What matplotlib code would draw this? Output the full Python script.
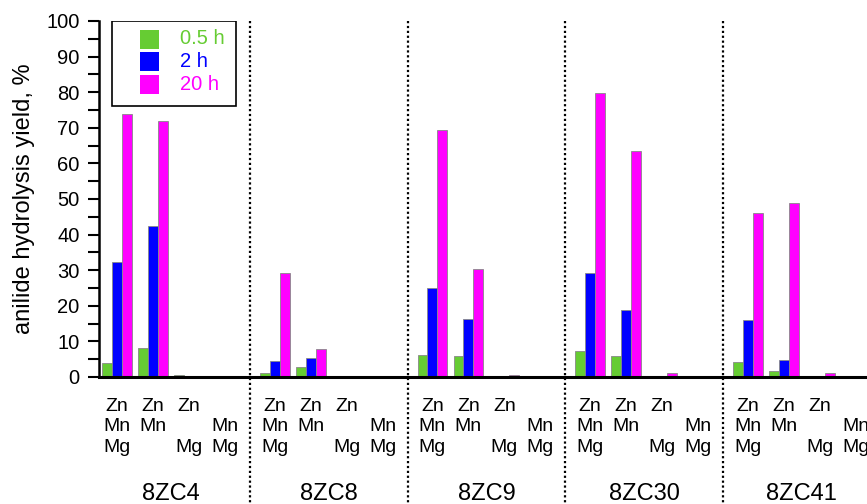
import numpy as np
import matplotlib
matplotlib.use("Agg")
import matplotlib.pyplot as plt
from matplotlib.patches import Rectangle, Shadow
from matplotlib.ticker import MultipleLocator
import matplotlib.transforms as mtransforms

plt.rcParams['font.family'] = ['Liberation Sans', 'DejaVu Sans']

# data
groups = ['8ZC4', '8ZC8', '8ZC9', '8ZC30', '8ZC41']
metals = ['Zn\nMn\nMg', 'Zn\nMn', 'Zn\n\nMg', '\nMn\nMg']
series = ['0.5 h', '2 h', '20 h']
colors = ['#66cc33', '#0000ff', '#ff00ff']

y_05h = [[3.8, 8.1, 0.5, 0],
         [1.0, 2.7, 0.3, 0],
         [6.1, 5.8, 0, 0],
         [7.2, 5.8, 0, 0],
         [4.1, 1.8, 0, 0]]
y_2h = [[32.3, 42.5, 0, 0],
        [4.4, 5.2, 0, 0],
        [25.0, 16.4, 0, 0],
        [29.3, 18.8, 0, 0],
        [16.0, 4.8, 0, 0]]
y_20h = [[74.0, 71.9, 0, 0],
         [29.3, 8.0, 0, 0],
         [69.3, 30.3, 0.7, 0],
         [79.7, 63.5, 1.2, 0],
         [46.0, 48.8, 1.2, 0]]

# layout
period = 4.38   # distance between groups, in subgroup units
bw = 0.275

fig = plt.figure(figsize=(8.67, 5.04), dpi=100)
ax = fig.add_axes([99/867, 127/504, 768/867, 356/504])

pos = np.array([[g*period + j for j in range(4)] for g in range(len(groups))])
data = [y_05h, y_2h, y_20h]
for k in range(3):
    ax.bar(pos.ravel() + (k-1)*bw, np.array(data[k]).ravel(), width=bw,
           color=colors[k], edgecolor='#888888', linewidth=0.6, zorder=2)

ax.set_xlim(-0.5, 20.83)
ax.set_ylim(0, 100)
ax.yaxis.set_major_locator(MultipleLocator(10))
ax.yaxis.set_minor_locator(MultipleLocator(5))
ax.tick_params(axis='y', which='both', length=8, width=1.5, labelsize=14.5, pad=6)
ax.set_xticks(pos.ravel())
ax.set_xticklabels(metals * len(groups), fontsize=14, linespacing=1.27)
ax.tick_params(axis='x', length=0, pad=15)

for s in ['top', 'right']:
    ax.spines[s].set_visible(False)
ax.spines['left'].set_linewidth(1.8)
ax.spines['bottom'].set_linewidth(2.2)

ax.set_ylabel('anilide hydrolysis yield, %', fontsize=17)
ax.yaxis.set_label_coords(-0.083, 0.5)

trans = mtransforms.blended_transform_factory(ax.transData, ax.transAxes)
for g in range(len(groups)):
    ax.text(g*period + 1.5, -0.328, groups[g], transform=trans,
            ha='center', va='center', fontsize=17)
    if g < len(groups) - 1:
        xs = g*period + (3 + period)/2
        ax.plot([xs, xs], [1.0, -0.36], transform=trans, color='black',
                lw=1.6, dashes=(1.0, 1.2), clip_on=False, zorder=1)

# legend box with hard shadow
box = Rectangle((13/768, 1 - 85/356), 124/768, 85/356, transform=ax.transAxes,
                facecolor='white', edgecolor='black', lw=1.2, zorder=5)
ax.add_patch(box)
ax.add_patch(Shadow(box, 2.5, -2.5, facecolor='black', edgecolor='black',
                    alpha=1, zorder=4.9))
for k in range(3):
    yc = 1 - (18 + 22.5*k)/356
    ax.add_patch(Rectangle((41/768, yc - 9.5/356), 19/768, 19/356,
                           transform=ax.transAxes, facecolor=colors[k],
                           edgecolor='none', zorder=6))
    ax.text(81/768, yc, series[k], transform=ax.transAxes, color=colors[k],
            fontsize=14.5, va='center', ha='left', zorder=6)

fig.savefig('out.png', dpi=100)
